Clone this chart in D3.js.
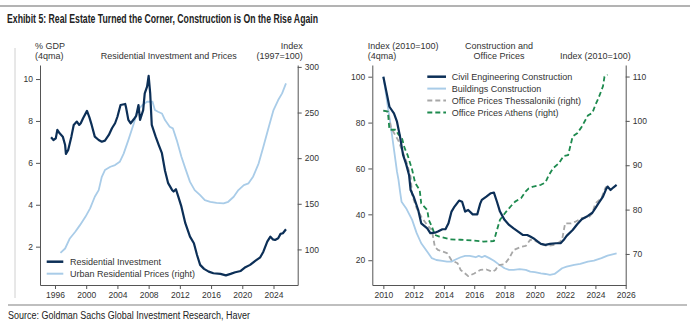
<!DOCTYPE html>
<html><head><meta charset="utf-8">
<script src="https://cdn.jsdelivr.net/npm/d3@7"></script>
<style>
body{margin:0;background:#fff;}
text{font-family:"Liberation Sans",Arial,sans-serif;}
</style></head>
<body><svg id="c" width="693" height="326"></svg>
<script>
// ---------- DATA ----------
const resInvYears = [1995.5,1995.8,1996.1,1996.3,1996.6,1997.0,1997.3,1997.4,1997.7,1998.1,1998.4,1998.8,1999.1,1999.3,1999.6,2000.1,2000.4,2000.7,2001.1,2001.6,2002.0,2002.4,2002.9,2003.3,2003.7,2004.0,2004.4,2005.0,2005.1,2005.4,2005.7,2006.1,2006.4,2006.7,2006.9,2007.3,2007.5,2007.8,2008.0,2008.2,2008.4,2008.9,2009.3,2009.7,2010.1,2010.5,2011.0,2011.2,2011.5,2011.8,2012.2,2012.7,2013.3,2013.8,2014.2,2014.6,2015.1,2015.7,2016.3,2017.2,2017.9,2018.5,2019.1,2019.8,2020.4,2021.0,2021.7,2022.3,2022.7,2023.2,2023.6,2023.9,2024.2,2024.6,2024.9,2025.2,2025.6];
const resInvValues = [7.22,7.09,7.17,7.57,7.41,7.25,6.85,6.43,6.62,7.25,7.81,7.97,7.81,7.89,8.13,8.48,8.18,7.81,7.25,7.09,7.01,7.06,7.33,7.65,7.89,8.2,8.76,8.81,8.65,8.05,7.89,8.08,8.24,8.76,8.05,8.52,9.32,9.64,10.15,9.32,7.81,7.25,6.85,6.46,5.62,5.03,4.71,4.63,4.74,4.39,3.91,3.12,2.48,2.16,1.60,1.13,0.94,0.81,0.73,0.70,0.63,0.70,0.78,0.84,1.02,1.13,1.33,1.49,1.76,2.24,2.48,2.35,2.32,2.40,2.61,2.64,2.83];
const urbanPriceYears = [1996.7,1997.3,1997.9,1998.6,1999.2,1999.9,2000.5,2001.1,2001.6,2002.0,2002.4,2003.1,2003.7,2004.3,2004.8,2005.4,2006.1,2006.6,2007.2,2007.8,2008.5,2008.8,2009.2,2009.7,2010.1,2010.7,2011.1,2011.6,2012.2,2012.7,2013.3,2013.9,2014.6,2015.2,2015.9,2016.7,2017.6,2018.2,2018.9,2019.5,2020.2,2020.8,2021.4,2022.1,2022.7,2023.4,2024.0,2024.6,2025.1,2025.6];
const urbanPriceValues = [96.3,101,112,119.3,126.6,135.7,145,157.7,165,179.6,187,190.6,192.4,196,205,219.8,238,252.7,258.2,261.8,261.8,252.7,250.9,249,241.8,234.4,232.7,219.8,201.5,188.8,174,165,159.5,154,152.2,151,150.4,152.2,157.7,165,170.5,172.4,180,194.3,212.5,234.4,252.7,263.7,271,282];

const civilYears = [2010.0,2010.2,2010.4,2010.7,2010.9,2011.1,2011.3,2011.5,2011.7,2011.8,2012.0,2012.3,2012.5,2012.9,2013.1,2013.4,2013.6,2013.9,2014.1,2014.3,2014.5,2014.7,2015.0,2015.2,2015.4,2015.6,2015.9,2016.2,2016.4,2016.5,2016.8,2017.1,2017.3,2017.5,2017.7,2018.0,2018.3,2018.6,2018.9,2019.2,2019.5,2019.7,2019.9,2020.2,2020.4,2020.7,2021.0,2021.4,2021.7,2021.9,2022.1,2022.5,2022.8,2023.1,2023.5,2023.8,2024.0,2024.2,2024.5,2024.7,2024.8,2025.0,2025.2,2025.4];
const civilValues = [100,93.5,86.9,84,80.4,73.9,65.9,62,57,50.6,47.7,41.9,36.1,33.9,31.8,32.0,32.5,33.5,33.5,36.1,41.2,43.4,46,45.5,41.2,41.9,40.0,40.0,44.8,46.3,47.7,49.2,49.5,45.5,41.2,37.6,35.4,33.9,32.5,31.0,31.0,30.3,29.6,28.1,27.1,26.7,27.1,27.4,27.4,28.8,30.6,33.2,35.7,37.9,39.3,40.7,42.7,44.8,47.7,50.9,52.1,50.6,51.8,52.8];
const buildYears = [2010.0,2010.5,2010.9,2011.0,2011.1,2011.2,2011.5,2011.9,2012.2,2012.5,2012.9,2013.2,2013.5,2013.9,2014.2,2014.5,2014.7,2015.1,2015.4,2015.7,2016.1,2016.3,2016.5,2016.7,2017.0,2017.3,2017.6,2018.0,2018.3,2018.6,2019.0,2019.4,2019.7,2020.0,2020.4,2020.7,2021.0,2021.3,2021.5,2021.8,2022.1,2022.6,2023.0,2023.5,2023.9,2024.4,2024.8,2025.4];
const buildValues = [100,78,58.6,55,50,45.5,42.7,37.6,31.8,27.4,23.7,20.9,20.1,19.7,19.4,19.4,20.1,21.3,21.9,21.9,21.3,21.9,21.3,21.9,20.9,19.8,18.3,16.5,15.8,15.8,16.1,15.8,15.0,14.8,14.3,14.0,13.6,14.0,15.0,16.5,17.2,18.0,18.4,19.4,19.8,20.9,22.0,23.0];
const thessYears = [2010.0,2010.3,2010.5,2011.0,2011.5,2011.8,2011.9,2012.2,2012.5,2012.9,2013.2,2013.4,2013.6,2014.2,2014.5,2014.9,2015.1,2015.4,2015.6,2016.0,2016.4,2016.8,2017.2,2017.4,2017.6,2018.0,2018.3,2018.6,2019.1,2019.4,2019.7,2020.0,2020.4,2020.8,2021.2,2021.6,2021.8,2022.0,2022.4,2022.7,2023.1,2023.6,2023.8,2024.0,2024.4,2024.6,2024.7];
const thessValues = [102.3,102.1,98.5,95.5,91,87.4,83.3,80.3,78.4,76.5,75.4,71.6,70.9,70.2,68.6,67.9,66.4,65.6,65.0,65.6,66.4,66.5,66.0,66.4,67.5,67.7,69.0,70.9,71.6,71.8,73.2,73.0,72.3,71.8,72.0,72.6,73.2,76.9,76.9,77.3,78.1,78.4,79.2,81.4,82.6,84.4,85.2];
const athensYears = [2010.0,2010.3,2010.4,2010.8,2011.0,2011.2,2011.4,2011.6,2011.9,2012.1,2012.4,2012.5,2012.9,2013.0,2013.2,2013.4,2013.7,2014.4,2015.1,2016.0,2016.6,2017.3,2017.5,2017.7,2018.1,2018.4,2018.7,2019.1,2019.4,2019.6,2019.9,2020.4,2020.7,2020.9,2021.2,2021.6,2021.9,2022.2,2022.5,2022.8,2023.1,2023.5,2023.8,2024.0,2024.2,2024.5,2024.6,2024.8];
const athensValues = [102.3,102.1,98,98,96.9,96.5,93.9,92.3,89,86,84.4,81.4,79.9,77.7,76.2,74.3,73.9,73.3,73.2,73.0,72.8,72.9,75.4,77.7,79.5,80.7,81.8,82.6,84.1,84.8,85.2,85.6,86.1,87.6,89.3,90.5,92.1,92.3,96.5,97.2,98.7,101.2,101.8,103.6,105.1,107.8,110,110.4];

const leftXTicks = [1996,2000,2004,2008,2012,2016,2020,2024];
const leftYTicks = [2,4,6,8,10];
const leftY2Ticks = [100,150,200,250,300];
const rightXTicks = [2010,2012,2014,2016,2018,2020,2022,2024,2026];
const rightYTicks = [20,40,60,80,100];
const rightY2Ticks = [70,80,90,100,110];

// ---------- STYLE ----------
const NAVY = "#0c2f57", LIGHT = "#a9cce8", GREY = "#a7a7a7", GREEN = "#1d8a4e";
const AX = "#555", TXT = "#333";
const svg = d3.select("#c");

// Header / footer
svg.append("line").attr("x1",0).attr("x2",690).attr("y1",6).attr("y2",6).attr("stroke","#9a9a9a").attr("stroke-width",1.5);
svg.append("text").attr("x",7).attr("y",23).attr("font-size",12.5).attr("font-weight","bold")
  .attr("fill","#222").style("font-family","'Liberation Sans Narrow','Liberation Sans',Arial,sans-serif")
  .attr("textLength",311).attr("lengthAdjust","spacingAndGlyphs")
  .text("Exhibit 5: Real Estate Turned the Corner, Construction is On the Rise Again");
svg.append("line").attr("x1",8).attr("x2",687).attr("y1",305).attr("y2",305).attr("stroke","#aaa").attr("stroke-width",1.5);
svg.append("text").attr("x",8).attr("y",319).attr("font-size",10).attr("fill","#222")
  .style("font-family","'Liberation Sans Narrow','Liberation Sans',Arial,sans-serif")
  .attr("textLength",242).attr("lengthAdjust","spacingAndGlyphs")
  .text("Source: Goldman Sachs Global Investment Research, Haver");
svg.append("line").attr("x1",15).attr("x2",15).attr("y1",48).attr("y2",298).attr("stroke","#d0d0d0").attr("stroke-width",1);

function styleAxis(g){
  g.selectAll("path").attr("stroke",AX);
  g.selectAll("line").attr("stroke",AX);
  g.selectAll("text").attr("fill",TXT).attr("font-size",8.5).style("font-family","'Liberation Sans',Arial,sans-serif");
}
function txt(x,y,s,anchor,size){
  return svg.append("text").attr("x",x).attr("y",y).attr("text-anchor",anchor||"start")
    .attr("font-size",size||9).attr("fill",TXT).text(s);
}
function drawLine(xs,ys,xScale,yScale,color,w,dash){
  const pts = xs.map((d,i)=>[d,ys[i]]);
  const p = svg.append("path").datum(pts)
    .attr("d", d3.line().x(d=>xScale(d[0])).y(d=>yScale(d[1])))
    .attr("fill","none").attr("stroke",color).attr("stroke-width",w).attr("stroke-linejoin","round");
  if(dash) p.attr("stroke-dasharray",dash);
  return p;
}

// ---------- LEFT CHART ----------
const lx = d3.scaleLinear().domain([1994.08,2027.1]).range([40,297.7]);
const ly = d3.scaleLinear().domain([0.17,10.67]).range([285,65]);
const ly2 = d3.scaleLinear().domain([61,302.1]).range([285,65]);

svg.append("g").attr("transform","translate(0,285)")
  .call(d3.axisBottom(lx).tickValues(leftXTicks).tickFormat(d3.format("d")).tickSize(4).tickSizeOuter(0)).call(styleAxis);
svg.append("g").attr("transform","translate(40,0)")
  .call(d3.axisLeft(ly).tickValues(leftYTicks).tickSize(4).tickSizeOuter(0)).call(styleAxis);
svg.append("g").attr("transform","translate(297.7,0)")
  .call(d3.axisRight(ly2).tickValues(leftY2Ticks).tickSize(4).tickSizeOuter(0)).call(styleAxis);

drawLine(urbanPriceYears,urbanPriceValues,lx,ly2,LIGHT,1.8);
drawLine(resInvYears,resInvValues,lx,ly,NAVY,2.2);

txt(35,48.5,"% GDP");
txt(35,58.5,"(4qma)");
txt(168.8,58.5,"Residential Investment and Prices","middle");
txt(302.7,48.5,"Index","end");
txt(302.7,58.5,"(1997=100)","end");

const legL = [["Residential Investment",NAVY,2.5],["Urban Residential Prices (right)",LIGHT,2]];
legL.forEach((d,i)=>{
  const y = 261.7 + i*12;
  svg.append("line").attr("x1",46.7).attr("x2",63.3).attr("y1",y).attr("y2",y).attr("stroke",d[1]).attr("stroke-width",d[2]);
  txt(70,y+3.2,d[0]);
});

// ---------- RIGHT CHART ----------
const rx = d3.scaleLinear().domain([2009.27,2026]).range([372.3,625.7]);
const ry = d3.scaleLinear().domain([9.2,105.1]).range([285,65]);
const ry2 = d3.scaleLinear().domain([63,112.6]).range([285,65]);

svg.append("g").attr("transform","translate(0,285)")
  .call(d3.axisBottom(rx).tickValues(rightXTicks).tickFormat(d3.format("d")).tickSize(4).tickSizeOuter(0)).call(styleAxis);
svg.append("g").attr("transform","translate(372.3,0)")
  .call(d3.axisLeft(ry).tickValues(rightYTicks).tickSize(4).tickSizeOuter(0)).call(styleAxis);
svg.append("g").attr("transform","translate(625.7,0)")
  .call(d3.axisRight(ry2).tickValues(rightY2Ticks).tickSize(4).tickSizeOuter(0)).call(styleAxis);

drawLine(buildYears,buildValues,rx,ry,LIGHT,1.8);
drawLine(thessYears,thessValues,rx,ry2,GREY,1.8,"5,3");
drawLine(athensYears,athensValues,rx,ry2,GREEN,1.8,"5,3");
drawLine(civilYears,civilValues,rx,ry,NAVY,2.2);

txt(367.7,48.5,"Index (2010=100)");
txt(367.7,58.5,"(4qma)");
txt(499,48.5,"Construction and","middle");
txt(499,58.5,"Office Prices","middle");
txt(630.7,58.5,"Index (2010=100)","end");

const legR = [["Civil Engineering Construction",NAVY,2.5,null],["Buildings Construction",LIGHT,2,null],
  ["Office Prices Thessaloniki (right)",GREY,2,"5,3"],["Office Prices Athens (right)",GREEN,2,"5,3"]];
legR.forEach((d,i)=>{
  const y = 76.7 + i*11.9;
  const l = svg.append("line").attr("x1",427.3).attr("x2",446).attr("y1",y).attr("y2",y).attr("stroke",d[1]).attr("stroke-width",d[2]);
  if(d[3]) l.attr("stroke-dasharray",d[3]);
  txt(451.7,y+3.2,d[0]);
});
</script></body></html>
